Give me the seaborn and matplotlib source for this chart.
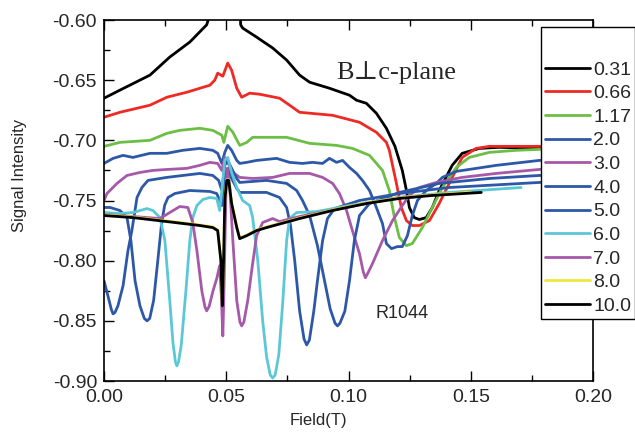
import matplotlib
matplotlib.use("Agg")
import matplotlib.pyplot as plt
import seaborn as sns
import pandas as pd
from matplotlib.ticker import MultipleLocator, FormatStrFormatter

# Field sweeps (T) and signal intensity for each temperature/label
labels = ["0.31", "0.66", "1.17", "2.0", "3.0", "4.0", "5.0", "6.0", "7.0", "8.0", "10.0"]
colors = ["#000000", "#ED2A24", "#6CBE45", "#2D58A7", "#A659A8", "#2D58A7",
          "#2D58A7", "#5CC8D6", "#A659A8", "#EEE83A", "#000000"]

field_031 = [0, 0.0065, 0.0188, 0.0269, 0.0351, 0.042, 0.0445, 0.050, 0.0555, 0.0559,
             0.0567, 0.0624, 0.069, 0.0747, 0.080, 0.0841, 0.0922, 0.1004, 0.1033, 0.1073,
             0.1114, 0.1155, 0.1190, 0.1220, 0.1237, 0.1249, 0.1269, 0.129, 0.1318, 0.1343,
             0.1371, 0.1424, 0.1465, 0.1535, 0.1616, 0.178, 0.185]
sig_031 = [-0.665, -0.6583, -0.6458, -0.6308, -0.6183, -0.604, -0.5875, -0.56, -0.5875, -0.604,
           -0.6067, -0.6142, -0.6233, -0.6333, -0.6458, -0.6517, -0.6567, -0.6625, -0.6667, -0.6692,
           -0.6775, -0.690, -0.705, -0.725, -0.7417, -0.7558, -0.7642, -0.7658, -0.7642, -0.7558,
           -0.7417, -0.7208, -0.7108, -0.7067, -0.7058, -0.7067, -0.7067]

field_066 = [0, 0.0065, 0.0188, 0.0257, 0.0339, 0.0433, 0.0453, 0.0465, 0.0486, 0.0506,
             0.0522, 0.0543, 0.0563, 0.0596, 0.0637, 0.0718, 0.0759, 0.080, 0.0935, 0.1045,
             0.1114, 0.1155, 0.1167, 0.1196, 0.1216, 0.1237, 0.1261, 0.129, 0.1331, 0.1371,
             0.1412, 0.1465, 0.1522, 0.1576, 0.178, 0.185]
sig_066 = [-0.6808, -0.6767, -0.6708, -0.6642, -0.660, -0.6542, -0.650, -0.6442, -0.6467, -0.6358,
           -0.6417, -0.6567, -0.6642, -0.6608, -0.6617, -0.665, -0.6708, -0.6767, -0.6792, -0.685,
           -0.6933, -0.7017, -0.7083, -0.7358, -0.7558, -0.7667, -0.7708, -0.7708, -0.7667, -0.7525,
           -0.7358, -0.7142, -0.7067, -0.705, -0.705, -0.705]

field_117 = [0, 0.0065, 0.0188, 0.0257, 0.031, 0.0392, 0.0445, 0.0482, 0.049, 0.0506,
             0.0527, 0.0555, 0.0584, 0.0608, 0.0747, 0.0841, 0.0951, 0.1016, 0.1086, 0.1139,
             0.1167, 0.1188, 0.1208, 0.1237, 0.1261, 0.1302, 0.1343, 0.1384, 0.1441, 0.1494,
             0.1576, 0.1686, 0.178, 0.185]
sig_117 = [-0.705, -0.7017, -0.700, -0.6942, -0.6917, -0.690, -0.6917, -0.6958, -0.7017, -0.6883,
           -0.6933, -0.7042, -0.7017, -0.6975, -0.6975, -0.7025, -0.7042, -0.7067, -0.7125, -0.725,
           -0.7417, -0.7642, -0.7808, -0.7875, -0.7858, -0.7725, -0.7558, -0.7392, -0.7225, -0.7142,
           -0.710, -0.7083, -0.7075, -0.7075]

field_20 = [0, 0.0037, 0.0078, 0.0118, 0.0188, 0.0257, 0.0322, 0.0392, 0.0445, 0.0465,
            0.0482, 0.0494, 0.0506, 0.0522, 0.0543, 0.0555, 0.0584, 0.0624, 0.0706, 0.0759,
            0.0812, 0.0853, 0.0894, 0.0922, 0.0951, 0.0976, 0.1004, 0.1033, 0.1057, 0.1086,
            0.1114, 0.1139, 0.1155, 0.1176, 0.120, 0.122, 0.1241, 0.1261, 0.1282, 0.1318,
            0.1359, 0.1384, 0.1441, 0.1604, 0.178, 0.185]
sig_20 = [-0.7192, -0.715, -0.7125, -0.7142, -0.7108, -0.7108, -0.7083, -0.7067, -0.7083, -0.7108,
          -0.7192, -0.710, -0.7042, -0.7083, -0.7167, -0.7192, -0.7183, -0.7167, -0.715, -0.7183,
          -0.7192, -0.7183, -0.7192, -0.715, -0.7183, -0.7167, -0.7225, -0.7275, -0.7333, -0.7417,
          -0.7558, -0.7692, -0.7858, -0.790, -0.7883, -0.7883, -0.7792, -0.7625, -0.750, -0.7417,
          -0.7358, -0.7308, -0.7258, -0.7208, -0.7167, -0.7160]

field_30 = [0, 0.0012, 0.0053, 0.0094, 0.0147, 0.020, 0.0257, 0.0339, 0.0392, 0.0433,
            0.0465, 0.0482, 0.0494, 0.0506, 0.0527, 0.0555, 0.0608, 0.069, 0.0759, 0.0841,
            0.0894, 0.0935, 0.0963, 0.0992, 0.1016, 0.1045, 0.1060, 0.1069, 0.1080, 0.1098,
            0.1139, 0.118, 0.122, 0.1249, 0.129, 0.1359, 0.1465, 0.1604, 0.178, 0.185]
sig_30 = [-0.750, -0.7442, -0.7358, -0.7292, -0.7267, -0.725, -0.7242, -0.7233, -0.7208, -0.7183,
          -0.7192, -0.725, -0.7142, -0.7183, -0.7267, -0.7308, -0.7317, -0.7308, -0.7275, -0.7275,
          -0.7308, -0.7358, -0.7442, -0.7583, -0.775, -0.7942, -0.8090, -0.8142, -0.8100, -0.8025,
          -0.7833, -0.7667, -0.7542, -0.7458, -0.7392, -0.735, -0.7308, -0.7275, -0.7242, -0.7235]

field_40 = [0, 0.0016, 0.0030, 0.0037, 0.0045, 0.0057, 0.0078, 0.0098, 0.0114, 0.0135,
            0.0155, 0.018, 0.0257, 0.0392, 0.0445, 0.0469, 0.0482, 0.0494, 0.0506, 0.0522,
            0.0543, 0.0555, 0.0665, 0.0747, 0.0788, 0.0812, 0.0841, 0.0873, 0.0902, 0.0925,
            0.0945, 0.0955, 0.0965, 0.0985, 0.1004, 0.1024, 0.1045, 0.1086, 0.1208, 0.1371,
            0.1576, 0.178, 0.185]
sig_40 = [-0.8167, -0.8292, -0.8405, -0.8442, -0.8430, -0.8375, -0.8208, -0.7917, -0.775, -0.7475,
          -0.7392, -0.7333, -0.7308, -0.7275, -0.7292, -0.7333, -0.7417, -0.7208, -0.7167, -0.7233,
          -0.7317, -0.735, -0.7333, -0.7358, -0.7417, -0.750, -0.7625, -0.7875, -0.8167, -0.8400,
          -0.8520, -0.8542, -0.8520, -0.8420, -0.8167, -0.7833, -0.7625, -0.7525, -0.7433, -0.7358,
          -0.7317, -0.7292, -0.7285]

field_50 = [0, 0.0025, 0.0065, 0.0094, 0.011, 0.0127, 0.0147, 0.0165, 0.0176, 0.0187,
            0.0203, 0.0220, 0.0235, 0.0248, 0.0262, 0.029, 0.0351, 0.0433, 0.0461, 0.0482,
            0.0494, 0.0506, 0.0522, 0.0543, 0.0555, 0.0665, 0.0718, 0.0747, 0.0763, 0.078,
            0.080, 0.0818, 0.0829, 0.0840, 0.0858, 0.0873, 0.0894, 0.0914, 0.0943, 0.1045,
            0.1208, 0.1412, 0.178, 0.185]
sig_50 = [-0.7558, -0.7558, -0.7583, -0.7642, -0.7833, -0.8167, -0.8375, -0.8480, -0.850, -0.8480,
          -0.8330, -0.8000, -0.7700, -0.7540, -0.7475, -0.7442, -0.7417, -0.7425, -0.7442, -0.7542,
          -0.7292, -0.7233, -0.7317, -0.740, -0.7433, -0.7433, -0.7475, -0.7558, -0.7708, -0.800,
          -0.8417, -0.8650, -0.870, -0.8660, -0.8420, -0.8167, -0.7833, -0.765, -0.7567, -0.750,
          -0.7442, -0.7392, -0.735, -0.7345]

field_60 = [0, 0.0065, 0.0118, 0.0176, 0.020, 0.0229, 0.0249, 0.0269, 0.0282, 0.0292,
            0.0298, 0.0305, 0.0316, 0.0335, 0.0351, 0.0363, 0.038, 0.0404, 0.0433, 0.0461,
            0.0473, 0.0482, 0.0494, 0.0506, 0.0522, 0.0543, 0.0567, 0.0596, 0.0608, 0.0629,
            0.0649, 0.0665, 0.0680, 0.069, 0.0700, 0.0715, 0.0731, 0.0747, 0.0759, 0.0788,
            0.0869, 0.1004, 0.1208, 0.1412, 0.1706]
sig_60 = [-0.760, -0.7608, -0.760, -0.7567, -0.7583, -0.7642, -0.7833, -0.8333, -0.8680, -0.8840,
          -0.8875, -0.8840, -0.8700, -0.825, -0.7833, -0.7642, -0.7542, -0.7492, -0.7475, -0.7483,
          -0.7583, -0.7417, -0.7167, -0.7142, -0.7267, -0.7392, -0.750, -0.7542, -0.7642, -0.800,
          -0.850, -0.8800, -0.8950, -0.8975, -0.8950, -0.8780, -0.835, -0.7833, -0.765, -0.760,
          -0.7592, -0.7542, -0.7475, -0.7433, -0.7392]

field_70 = [0, 0.0118, 0.0229, 0.0269, 0.031, 0.0343, 0.0363, 0.038, 0.040, 0.0413,
            0.042, 0.0430, 0.0446, 0.0461, 0.0473, 0.0480, 0.0486, 0.0490, 0.0499, 0.0504,
            0.0514, 0.0527, 0.0543, 0.0556, 0.0563, 0.0572, 0.0588, 0.0604, 0.0624, 0.0649,
            0.069, 0.0718, 0.080, 0.0963, 0.1208, 0.150]
sig_70 = [-0.7617, -0.7633, -0.765, -0.760, -0.755, -0.7558, -0.7683, -0.7917, -0.825, -0.8385,
          -0.8417, -0.8380, -0.8250, -0.815, -0.8042, -0.830, -0.8625, -0.830, -0.7417, -0.7233,
          -0.7375, -0.7833, -0.8333, -0.8510, -0.8542, -0.8510, -0.8330, -0.8083, -0.7792, -0.7683,
          -0.765, -0.7675, -0.7633, -0.7567, -0.7475, -0.743]

field_80 = [0, 0.0118, 0.0257, 0.0392, 0.0445, 0.0465, 0.0478, 0.0484, 0.0490, 0.0494,
            0.0502, 0.0510, 0.0522, 0.0543, 0.0555, 0.0584, 0.0624, 0.0665, 0.080, 0.0935,
            0.1073, 0.1208, 0.1343, 0.150]
sig_80 = [-0.7620, -0.7637, -0.7670, -0.7703, -0.7720, -0.7745, -0.799, -0.836, -0.791, -0.7495,
          -0.7328, -0.7328, -0.7520, -0.7720, -0.7812, -0.7787, -0.7745, -0.7720, -0.7645, -0.7578,
          -0.7520, -0.7478, -0.7453, -0.7430]

field_100 = [0, 0.0118, 0.0257, 0.0392, 0.0445, 0.0465, 0.0478, 0.0484, 0.0490, 0.0494,
             0.0502, 0.0510, 0.0522, 0.0543, 0.0555, 0.0584, 0.0624, 0.0665, 0.080, 0.0935,
             0.1073, 0.1208, 0.1343, 0.1543]
sig_100 = [-0.7625, -0.7642, -0.7675, -0.7708, -0.7725, -0.775, -0.800, -0.8375, -0.792, -0.750,
           -0.7333, -0.7333, -0.7525, -0.7725, -0.7817, -0.7792, -0.775, -0.7725, -0.765, -0.7583,
           -0.7525, -0.7483, -0.7458, -0.7433]

series_field = [field_031, field_066, field_117, field_20, field_30, field_40,
                field_50, field_60, field_70, field_80, field_100]
series_signal = [sig_031, sig_066, sig_117, sig_20, sig_30, sig_40,
                 sig_50, sig_60, sig_70, sig_80, sig_100]

frames = []
for lab, fx, sy in zip(labels, series_field, series_signal):
    frames.append(pd.DataFrame({"Field": fx, "Signal": sy, "label": lab}))
df = pd.concat(frames, ignore_index=True)

sns.set_style("ticks")
plt.rcParams["font.family"] = ["Liberation Sans", "DejaVu Sans"]
plt.rcParams["axes.unicode_minus"] = False

fig = plt.figure(figsize=(6.35, 4.32), dpi=100)
ax = fig.add_axes([104 / 635, 1 - 381 / 432, 489 / 635, 361 / 432])

sns.lineplot(data=df, x="Field", y="Signal", hue="label", hue_order=labels,
             palette=dict(zip(labels, colors)), estimator=None, sort=False,
             linewidth=2.0, ax=ax, legend=False)

ax.set_xlim(0, 0.20)
ax.set_ylim(-0.90, -0.60)
ax.xaxis.set_major_locator(MultipleLocator(0.05))
ax.xaxis.set_minor_locator(MultipleLocator(0.025))
ax.yaxis.set_major_locator(MultipleLocator(0.05))
ax.yaxis.set_minor_locator(MultipleLocator(0.025))
ax.xaxis.set_major_formatter(FormatStrFormatter("%.2f"))
ax.yaxis.set_major_formatter(FormatStrFormatter("%.2f"))
ax.tick_params(axis="both", which="both", direction="in", top=True, right=False,
               color="black", width=1.0)
ax.tick_params(axis="both", which="major", length=7, labelsize=14, pad=5)
ax.tick_params(axis="x", which="major", pad=6)
ax.tick_params(axis="both", which="minor", length=4)
for side in ["left", "bottom", "top", "right"]:
    ax.spines[side].set_color("black")
    ax.spines[side].set_linewidth(1.2)

ax.set_xlabel("Field(T)", fontsize=12)
ax.set_ylabel("Signal Intensity", fontsize=12)
ax.xaxis.set_label_coords(0.4376, -0.088)
ax.yaxis.set_label_coords(-0.158, 0.57)

ax.text(0.095, -0.6433, "B\u22a5c-plane", fontsize=19, va="center", ha="left",
        family=["Liberation Serif", "DejaVu Serif"])
ax.text(0.1110, -0.8442, "R1044", fontsize=13, va="center", ha="left")

handles = [plt.Line2D([], [], color=c, linewidth=2.0) for c in colors]
leg = fig.legend(handles, labels, loc="upper left",
                 bbox_to_anchor=(541 / 635, 1 - 27 / 432), bbox_transform=fig.transFigure,
                 borderaxespad=0, fontsize=14, frameon=True, fancybox=False, shadow=False,
                 handlelength=2.3, handletextpad=0.2, borderpad=0.2,
                 labelspacing=0.31, title=" ", title_fontsize=19)
leg.get_frame().set_edgecolor("black")
leg.get_frame().set_linewidth(1.0)
leg.get_frame().set_facecolor("white")
leg.get_frame().set_alpha(1.0)

fig.savefig("out.png", dpi=100)
